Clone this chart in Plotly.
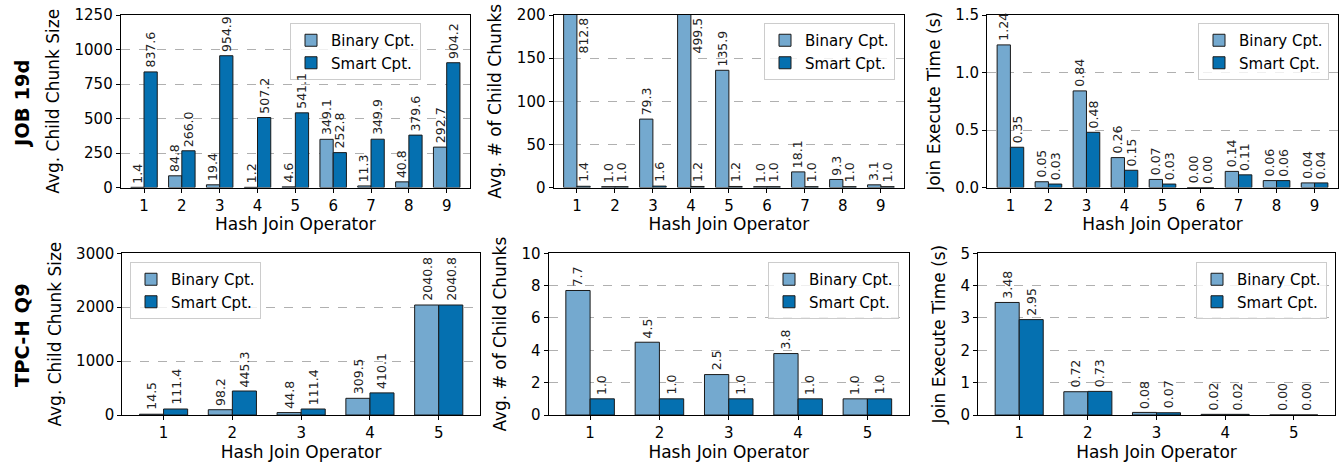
import plotly.graph_objects as go

W, H = 1342, 463

# ---------------- data ----------------
ops_job = [1, 2, 3, 4, 5, 6, 7, 8, 9]
ops_tpch = [1, 2, 3, 4, 5]

job_size_binary = [1.4, 84.8, 19.4, 1.2, 4.6, 349.1, 11.3, 40.8, 292.7]
job_size_smart = [837.6, 266.0, 954.9, 507.2, 541.1, 252.8, 349.9, 379.6, 904.2]

job_chunks_binary = [812.8, 1.0, 79.3, 499.5, 135.9, 1.0, 18.1, 9.3, 3.1]
job_chunks_smart = [1.4, 1.0, 1.6, 1.2, 1.2, 1.0, 1.0, 1.0, 1.0]

job_time_binary = [1.24, 0.05, 0.84, 0.26, 0.07, 0.00, 0.14, 0.06, 0.04]
job_time_smart = [0.35, 0.03, 0.48, 0.15, 0.03, 0.00, 0.11, 0.06, 0.04]

tpch_size_binary = [14.5, 98.2, 44.8, 309.5, 2040.8]
tpch_size_smart = [111.4, 445.3, 111.4, 410.1, 2040.8]

tpch_chunks_binary = [7.7, 4.5, 2.5, 3.8, 1.0]
tpch_chunks_smart = [1.0, 1.0, 1.0, 1.0, 1.0]

tpch_time_binary = [3.48, 0.72, 0.08, 0.02, 0.00]
tpch_time_smart = [2.95, 0.73, 0.07, 0.02, 0.00]

series_names = ["Binary Cpt.", "Smart Cpt."]
row_labels = ["JOB 19d", "TPC-H Q9"]
xlabel = "Hash Join Operator"
ylabels = ["Avg. Child Chunk Size", "Avg. # of Child Chunks", "Join Execute Time (s)"]

# ---------------- style / layout ----------------
C_BIN = "#74a9cf"
C_SMART = "#0570b0"
FONT = "DejaVu Sans"
BW = 0.35

def px_x(a, b):
    return [a / W, b / W]

def px_y(top, bottom):
    return [1 - bottom / H, 1 - top / H]

panels = [
    dict(ops=ops_job, b=job_size_binary, s=job_size_smart, ymax=1250, dtick=250, fmt="{:.1f}", tfmt="",
         xd=px_x(120.7, 470), yd=px_y(15, 187.5), yl=ylabels[0], leg=(421, 23, "right"), xr=[0.384, 9.616]),
    dict(ops=ops_job, b=job_chunks_binary, s=job_chunks_smart, ymax=200, dtick=50, fmt="{:.1f}", tfmt="",
         xd=px_x(553.5, 904.3), yd=px_y(15, 187.5), yl=ylabels[1], leg=(895, 23, "right"), xr=[0.384, 9.616]),
    dict(ops=ops_job, b=job_time_binary, s=job_time_smart, ymax=1.5, dtick=0.5, fmt="{:.2f}", tfmt=".1f",
         xd=px_x(987, 1338), yd=px_y(15, 187.5), yl=ylabels[2], leg=(1329, 23, "right"), xr=[0.384, 9.616]),
    dict(ops=ops_tpch, b=tpch_size_binary, s=tpch_size_smart, ymax=3000, dtick=1000, fmt="{:.1f}", tfmt="",
         xd=px_x(122.3, 480), yd=px_y(253.3, 415), yl=ylabels[0], leg=(130, 262, "left"), xr=[0.4, 5.6]),
    dict(ops=ops_tpch, b=tpch_chunks_binary, s=tpch_chunks_smart, ymax=10, dtick=2, fmt="{:.1f}", tfmt="",
         xd=px_x(548.5, 909), yd=px_y(253.3, 415), yl=ylabels[1], leg=(899, 262, "right"), xr=[0.4, 5.6]),
    dict(ops=ops_tpch, b=tpch_time_binary, s=tpch_time_smart, ymax=5, dtick=1, fmt="{:.2f}", tfmt="",
         xd=px_x(978, 1335), yd=px_y(253.3, 415), yl=ylabels[2], leg=(1327, 262, "right"), xr=[0.4, 5.6]),
]

fig = go.Figure()
annotations = []
layout = {}

for k, p in enumerate(panels, start=1):
    xa = "x" if k == 1 else f"x{k}"
    ya = "y" if k == 1 else f"y{k}"
    lg = "legend" if k == 1 else f"legend{k}"
    for name, vals, col, off in [(series_names[0], p["b"], C_BIN, -BW), (series_names[1], p["s"], C_SMART, 0.0)]:
        fig.add_trace(go.Bar(
            x=p["ops"], y=vals, name=name, width=BW, offset=off,
            marker=dict(color=col, line=dict(color="#1a1a1a", width=1)),
            xaxis=xa, yaxis=ya, legend=lg, showlegend=True, hoverinfo="x+y",
        ))
        # value labels
        for xv, v in zip(p["ops"], vals):
            if v > p["ymax"]:
                annotations.append(dict(
                    x=xv + BW / 2, y=p["ymax"], xref=xa, yref=ya, text=p["fmt"].format(v),
                    textangle=-90, showarrow=False, yanchor="top", xanchor="center", yshift=-1,
                    font=dict(family=FONT, size=12.5, color="#222")))
            else:
                annotations.append(dict(
                    x=xv + off + BW / 2, y=v, xref=xa, yref=ya, text=p["fmt"].format(v),
                    textangle=-90, showarrow=False, yanchor="bottom", xanchor="center", yshift=2,
                    font=dict(family=FONT, size=12.5, color="#222")))

    axname_x = "xaxis" if k == 1 else f"xaxis{k}"
    axname_y = "yaxis" if k == 1 else f"yaxis{k}"
    layout[axname_x] = dict(
        domain=p["xd"], anchor=ya, range=p["xr"], tickmode="array", tickvals=p["ops"],
        ticktext=[str(o) for o in p["ops"]], ticks="outside", ticklen=4, tickcolor="black",
        showline=True, linecolor="black", linewidth=1, mirror=True, showgrid=False, zeroline=False,
        tickfont=dict(family=FONT, size=15, color="black"),
        title=dict(text=xlabel, font=dict(family=FONT, size=17, color="black"), standoff=2),
        automargin=False,
    )
    layout[axname_y] = dict(
        domain=p["yd"], anchor=xa, range=[0, p["ymax"]], dtick=p["dtick"], tick0=0,
        tickformat=p["tfmt"], ticks="outside", ticklen=4, tickcolor="black",
        showline=True, linecolor="black", linewidth=1, mirror=True,
        showgrid=True, gridcolor="#b0b0b0", griddash="dash", gridwidth=1, zeroline=False,
        tickfont=dict(family=FONT, size=15, color="black"),
        title=dict(text=p["yl"], font=dict(family=FONT, size=17, color="black"), standoff=10),
        automargin=False,
    )
    lx, ly, side = p["leg"]
    layout[lg] = dict(
        x=lx / W, y=1 - ly / H, xanchor=side, yanchor="top", xref="paper", yref="paper",
        bgcolor="rgba(255,255,255,0.8)", bordercolor="#cccccc", borderwidth=1,
        font=dict(family=FONT, size=15, color="black"), tracegroupgap=0, itemwidth=30,
    )

# row labels
for txt, yc in [(row_labels[0], 1 - 104 / H), (row_labels[1], 1 - 335 / H)]:
    annotations.append(dict(
        x=22 / W, y=yc, xref="paper", yref="paper", text=f"<b>{txt}</b>", textangle=-90,
        showarrow=False, xanchor="center", yanchor="middle",
        font=dict(family=FONT, size=19.5, color="black")))

fig.update_layout(
    width=W, height=H, margin=dict(l=0, r=0, t=0, b=0), autosize=False,
    plot_bgcolor="white", paper_bgcolor="white", barmode="overlay",
    annotations=annotations, font=dict(family=FONT, color="black"),
    **layout,
)

fig.write_html("out.html", config={"displayModeBar": False},
               post_script="document.body.style.margin='0';document.body.style.overflow='hidden';")
